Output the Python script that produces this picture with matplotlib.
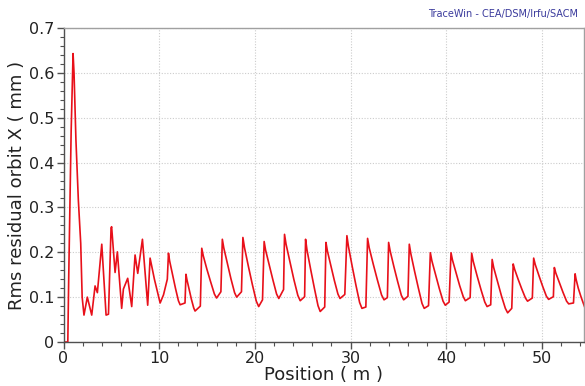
import matplotlib
matplotlib.use("Agg")
import matplotlib.pyplot as plt
from matplotlib.ticker import MultipleLocator

# Position (m) and rms residual orbit X (mm)
position = [
    0.0, 0.45, 0.55, 0.68, 0.80, 1.00, 1.10, 1.30, 1.55, 1.80, 1.95, 2.14, 2.49, 2.95,
    3.30, 3.54, 4.00, 4.45, 4.70, 4.97, 5.03, 5.39, 5.63, 6.08, 6.26, 6.71, 7.13,
    7.48, 7.76, 8.25, 8.80, 9.05, 9.50, 10.10, 10.45, 10.85,
    10.97, 11.09, 11.40, 11.70, 12.01, 12.19, 12.70,
    12.80, 12.90, 13.13, 13.37, 13.61, 13.75, 14.30,
    14.45, 14.61, 14.99, 15.38, 15.77, 16.00, 16.45,
    16.60, 16.75, 17.13, 17.50, 17.88, 18.10, 18.60,
    18.75, 18.92, 19.33, 19.74, 20.15, 20.40, 20.80,
    20.97, 21.12, 21.51, 21.89, 22.27, 22.50, 23.00,
    23.10, 23.26, 23.67, 24.08, 24.49, 24.74, 25.20,
    25.30, 25.45, 25.84, 26.22, 26.60, 26.83, 27.30,
    27.43, 27.58, 27.94, 28.31, 28.68, 28.90, 29.40,
    29.62, 29.78, 30.17, 30.56, 30.95, 31.19, 31.60,
    31.78, 31.95, 32.38, 32.81, 33.24, 33.50, 33.85,
    33.98, 34.14, 34.53, 34.92, 35.31, 35.55, 36.00,
    36.14, 36.30, 36.69, 37.08, 37.47, 37.70, 38.15,
    38.34, 38.50, 38.89, 39.28, 39.67, 39.90, 40.30,
    40.50, 40.65, 41.03, 41.40, 41.78, 42.00, 42.50,
    42.66, 42.82, 43.22, 43.63, 44.03, 44.27, 44.65,
    44.80, 44.96, 45.37, 45.77, 46.18, 46.42, 46.85,
    47.00, 47.15, 47.53, 47.90, 48.28, 48.50, 49.00,
    49.14, 49.30, 49.69, 50.08, 50.47, 50.70, 51.20,
    51.30, 51.45, 51.83, 52.20, 52.58, 52.80, 53.30,
    53.47, 53.57, 53.80, 54.10, 54.45,
]
rms_orbit_x = [
    0.0, 0.0, 0.15, 0.32, 0.47, 0.643, 0.60, 0.45, 0.317, 0.22, 0.10, 0.06, 0.10, 0.06,
    0.125, 0.11, 0.218, 0.06, 0.062, 0.254, 0.257, 0.155, 0.201, 0.075, 0.118, 0.142, 0.079,
    0.194, 0.153, 0.229, 0.082, 0.187, 0.140, 0.087, 0.105, 0.140,
    0.198, 0.181, 0.150, 0.120, 0.092, 0.083, 0.087,
    0.151, 0.139, 0.117, 0.095, 0.076, 0.069, 0.080,
    0.209, 0.192, 0.162, 0.134, 0.107, 0.098, 0.112,
    0.229, 0.210, 0.175, 0.141, 0.110, 0.100, 0.112,
    0.233, 0.210, 0.168, 0.128, 0.091, 0.079, 0.094,
    0.224, 0.205, 0.171, 0.138, 0.107, 0.097, 0.117,
    0.240, 0.218, 0.178, 0.139, 0.104, 0.092, 0.101,
    0.229, 0.205, 0.161, 0.120, 0.081, 0.068, 0.078,
    0.222, 0.203, 0.170, 0.137, 0.107, 0.097, 0.106,
    0.237, 0.213, 0.169, 0.127, 0.088, 0.075, 0.078,
    0.231, 0.210, 0.173, 0.138, 0.105, 0.094, 0.099,
    0.222, 0.203, 0.168, 0.135, 0.104, 0.094, 0.102,
    0.218, 0.197, 0.158, 0.121, 0.086, 0.075, 0.081,
    0.199, 0.181, 0.150, 0.119, 0.091, 0.082, 0.089,
    0.199, 0.183, 0.154, 0.126, 0.101, 0.092, 0.099,
    0.198, 0.180, 0.148, 0.117, 0.089, 0.079, 0.083,
    0.184, 0.166, 0.134, 0.103, 0.075, 0.065, 0.075,
    0.174, 0.162, 0.139, 0.118, 0.098, 0.091, 0.098,
    0.187, 0.173, 0.148, 0.124, 0.102, 0.095, 0.101,
    0.166, 0.154, 0.132, 0.111, 0.091, 0.085, 0.087,
    0.152, 0.140, 0.120, 0.100, 0.079,
]

x_major_ticks = [0, 10, 20, 30, 40, 50]
y_major_ticks = [0, 0.1, 0.2, 0.3, 0.4, 0.5, 0.6, 0.7]

W, H = 585, 386
fig = plt.figure(figsize=(W / 100, H / 100), dpi=100)
ax = fig.add_axes([63.5 / W, (H - 342) / H, (584 - 63.5) / W, (342 - 28) / H])

ax.plot(position, rms_orbit_x, color="#e8101a", lw=1.2, clip_on=True)

ax.set_xlim(0, 54.4)
ax.set_ylim(0, 0.7)
ax.set_xticks(x_major_ticks)
ax.set_yticks(y_major_ticks)
ax.set_yticklabels(["0" if v == 0 else f"{v:.1f}" for v in y_major_ticks])
ax.xaxis.set_minor_locator(MultipleLocator(2))
ax.yaxis.set_minor_locator(MultipleLocator(0.02))

ax.grid(True, which="major", color="#cccccc", linestyle=(0, (1, 1.5)), linewidth=0.8)
ax.set_axisbelow(True)

for side in ("top", "right"):
    ax.spines[side].set_color("#a0a0a0")
    ax.spines[side].set_linewidth(1.0)
for side in ("left", "bottom"):
    ax.spines[side].set_color("#505050")
    ax.spines[side].set_linewidth(1.0)

ax.tick_params(axis="both", which="major", direction="out", length=5, width=1,
               color="#505050", labelsize=11.5, labelcolor="#222222", pad=1.5)
ax.tick_params(axis="both", which="minor", direction="out", length=3, width=0.8,
               color="#505050")

ax.set_xlabel("Position ( m )", fontsize=13, color="#222222", labelpad=0)
ax.set_ylabel("Rms residual orbit X ( mm )", fontsize=13, color="#222222", labelpad=2)

fig.text(578 / W, 1 - 14 / H, "TraceWin - CEA/DSM/Irfu/SACM", ha="right", va="center",
         fontsize=7, color="#3a3a9c")

fig.savefig("out.png", dpi=100)
